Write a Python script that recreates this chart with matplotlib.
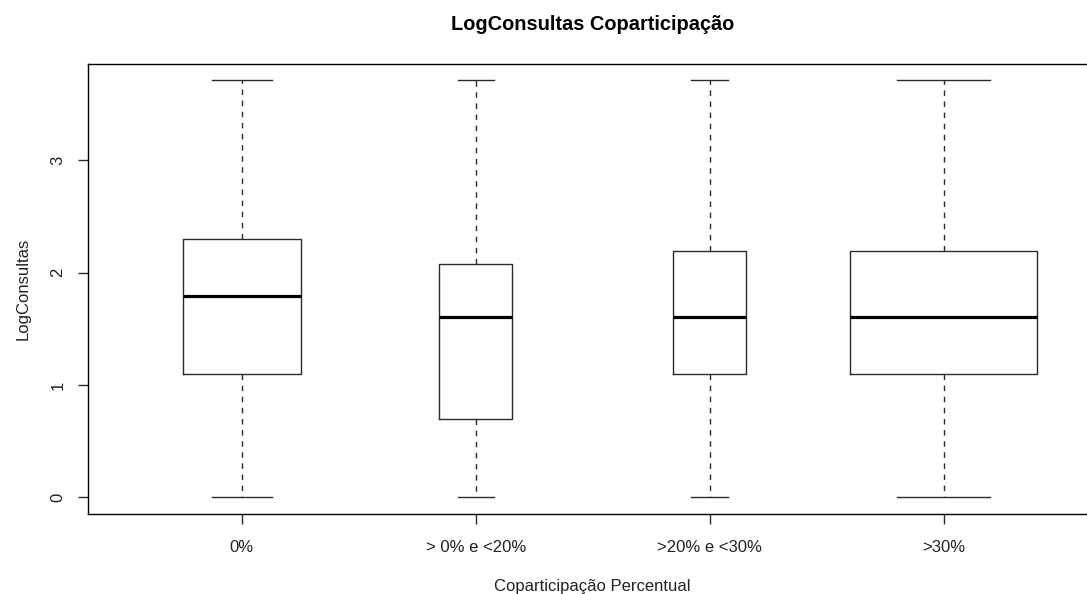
import numpy as np
import matplotlib
matplotlib.use("Agg")
import matplotlib.pyplot as plt

# Group labels and five-number summaries of LogConsultas (natural log of visit counts)
categories = ["0%", "> 0% e <20%", ">20% e <30%", ">30%"]
whisker_low = [0.0, 0.0, 0.0, 0.0]
q1 = [np.log(3), np.log(2), np.log(3), np.log(3)]
median = [np.log(6), np.log(5), np.log(5), np.log(5)]
q3 = [np.log(10), np.log(8), np.log(9), np.log(9)]
whisker_high = [np.log(41), np.log(41), np.log(41), np.log(41)]
# relative box widths (proportional to sqrt of group size)
rel_width = [0.634, 0.39, 0.39, 1.0]
y_ticks = [0, 1, 2, 3]

plt.rcParams["font.family"] = ["Liberation Sans", "DejaVu Sans"]

W, H, DPI = 1087, 594, 100
fig = plt.figure(figsize=(W / DPI, H / DPI), dpi=DPI)
fig.patch.set_facecolor("white")

# plot region; the right edge runs slightly past the canvas
left_px, right_px, top_px, bottom_px = 87.5, 1098.0, 63.5, 514.0
ax = fig.add_axes([left_px / W, 1 - bottom_px / H,
                   (right_px - left_px) / W, (bottom_px - top_px) / H])

stats = []
for i, name in enumerate(categories):
    stats.append(dict(label=name, whislo=whisker_low[i], q1=q1[i], med=median[i],
                      q3=q3[i], whishi=whisker_high[i], fliers=[]))

n = len(categories)
positions = np.arange(1, n + 1)
widths = [0.8 * r for r in rel_width]

line_col = "#2b2b2b"
ax.bxp(stats, positions=positions, widths=widths, showfliers=False,
       boxprops=dict(color=line_col, linewidth=1.0),
       medianprops=dict(color="black", linewidth=2.3, solid_capstyle="butt"),
       whiskerprops=dict(color=line_col, linewidth=1.0, linestyle=(0, (4, 4))),
       capprops=dict(color=line_col, linewidth=1.0),
       capwidths=[w / 2 for w in widths])

lo, hi = 0.5, n + 0.5
pad = 0.04 * (hi - lo)
ax.set_xlim(lo - pad, hi + pad)
ymin, ymax = min(whisker_low), max(whisker_high)
ypad = 0.04 * (ymax - ymin)
ax.set_ylim(ymin - ypad, ymax + ypad)

ax.set_xticks(positions)
ax.set_xticklabels(categories, fontsize=12, color="#222222")
ax.set_yticks(y_ticks)
ax.set_yticklabels([str(t) for t in y_ticks], fontsize=12, color="#222222",
                   rotation=90, va="center")
ax.tick_params(axis="both", direction="out", length=7, width=1.0, color=line_col)
ax.tick_params(axis="x", pad=12)
ax.tick_params(axis="y", pad=9)

for s in ax.spines.values():
    s.set_color("black")
    s.set_linewidth(1.0)

ax.set_xlabel("Coparticipação Percentual", fontsize=12, color="#222222", labelpad=17)
ax.set_ylabel("LogConsultas", fontsize=12, color="#222222", labelpad=14)

fig.text(0.5 * (left_px + right_px) / W, 1 - 30 / H, "LogConsultas Coparticipação",
         ha="center", va="baseline", fontsize=14.4, fontweight="bold")

fig.savefig("out.png", dpi=DPI, facecolor="white")
